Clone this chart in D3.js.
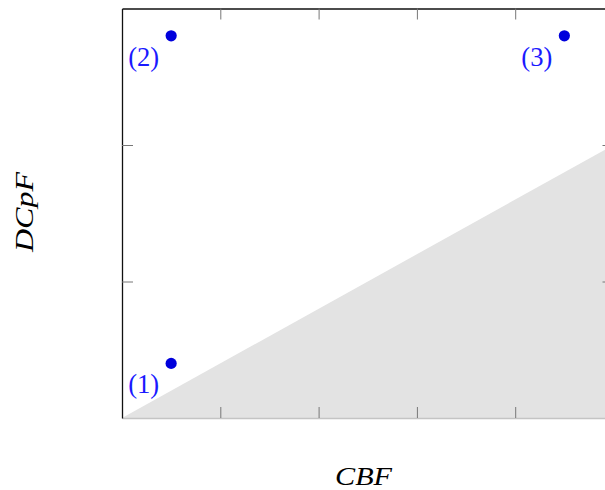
<!DOCTYPE html>
<html>
<head>
<meta charset="utf-8">
<script src="https://cdn.jsdelivr.net/npm/d3@7"></script>
<style>
  html, body { margin: 0; padding: 0; background: #fff; overflow: hidden; }
  svg { display: block; }
</style>
</head>
<body>
<svg id="chart" width="605" height="490"></svg>
<script>
// ---- data ----
const pointX = [0.5, 0.5, 4.5];
const pointY = [0.4, 2.8, 2.8];
const pointLabels = ["(1)", "(2)", "(3)"];
const regionX = [0, 5, 5];
const regionY = [0, 2, 0];
const xTicks = [1, 2, 3, 4];
const yTicks = [1, 2];
const xDomain = [0, 5];
const yDomain = [0, 3];
const xTitle = "CBF";
const yTitle = "DCpF";

// ---- layout ----
const svg = d3.select("#chart");
const x = d3.scaleLinear().domain(xDomain).range([122, 613.5]);
const y = d3.scaleLinear().domain(yDomain).range([418, 8.5]);
const serif = "'Liberation Serif', 'DejaVu Serif', serif";

// shaded region
const region = regionX.map((v, i) => [x(v), y(regionY[i])]);
svg.append("path")
  .attr("d", d3.line()(region) + "Z")
  .attr("fill", "#e3e3e3");

// axes (inward ticks, no labels)
const tick = 11;
function styleAxis(g, domainColor) {
  g.selectAll(".domain").attr("stroke", domainColor).attr("stroke-width", 1.3);
  g.selectAll(".tick line").attr("stroke", "#777").attr("stroke-width", 1);
  g.selectAll(".tick text").remove();
}
svg.append("g").attr("transform", `translate(0,${y(0)})`)
  .call(d3.axisBottom(x).tickValues(xTicks).tickSize(-tick).tickSizeOuter(0).tickFormat(""))
  .call(g => styleAxis(g, "#c4c4c4"));
svg.append("g").attr("transform", `translate(0,${y(3)})`)
  .call(d3.axisTop(x).tickValues(xTicks).tickSize(-tick).tickSizeOuter(0).tickFormat(""))
  .call(g => styleAxis(g, "#111"));
svg.append("g").attr("transform", `translate(${x(0)},0)`)
  .call(d3.axisLeft(y).tickValues(yTicks).tickSize(-tick).tickSizeOuter(0).tickFormat(""))
  .call(g => styleAxis(g, "#111"));
svg.append("g").attr("transform", `translate(${x(5)},0)`)
  .call(d3.axisRight(y).tickValues(yTicks).tickSize(-tick).tickSizeOuter(0).tickFormat(""))
  .call(g => styleAxis(g, "#111"));

// points
const pts = pointX.map((v, i) => ({ x: v, y: pointY[i], label: pointLabels[i] }));
svg.append("g").selectAll("circle").data(pts).join("circle")
  .attr("cx", d => x(d.x))
  .attr("cy", d => y(d.y))
  .attr("r", 5.6)
  .attr("fill", "#0000dc");

svg.append("g").selectAll("text").data(pts).join("text")
  .attr("x", d => x(d.x) - 12)
  .attr("y", d => y(d.y) + 30)
  .attr("text-anchor", "end")
  .attr("font-family", serif)
  .attr("font-size", 28)
  .attr("fill", "#1a1aff")
  .attr("textLength", 31)
  .attr("lengthAdjust", "spacingAndGlyphs")
  .text(d => d.label);

// axis titles
svg.append("text")
  .attr("x", 363.5).attr("y", 485)
  .attr("text-anchor", "middle")
  .attr("font-family", serif).attr("font-style", "italic").attr("font-size", 25)
  .attr("textLength", 57).attr("lengthAdjust", "spacingAndGlyphs")
  .attr("fill", "#000")
  .text(xTitle);

svg.append("text")
  .attr("transform", "translate(33,212) rotate(-90)")
  .attr("text-anchor", "middle")
  .attr("font-family", serif).attr("font-style", "italic").attr("font-size", 26)
  .attr("textLength", 80).attr("lengthAdjust", "spacingAndGlyphs")
  .attr("fill", "#000")
  .text(yTitle);
</script>
</body>
</html>
